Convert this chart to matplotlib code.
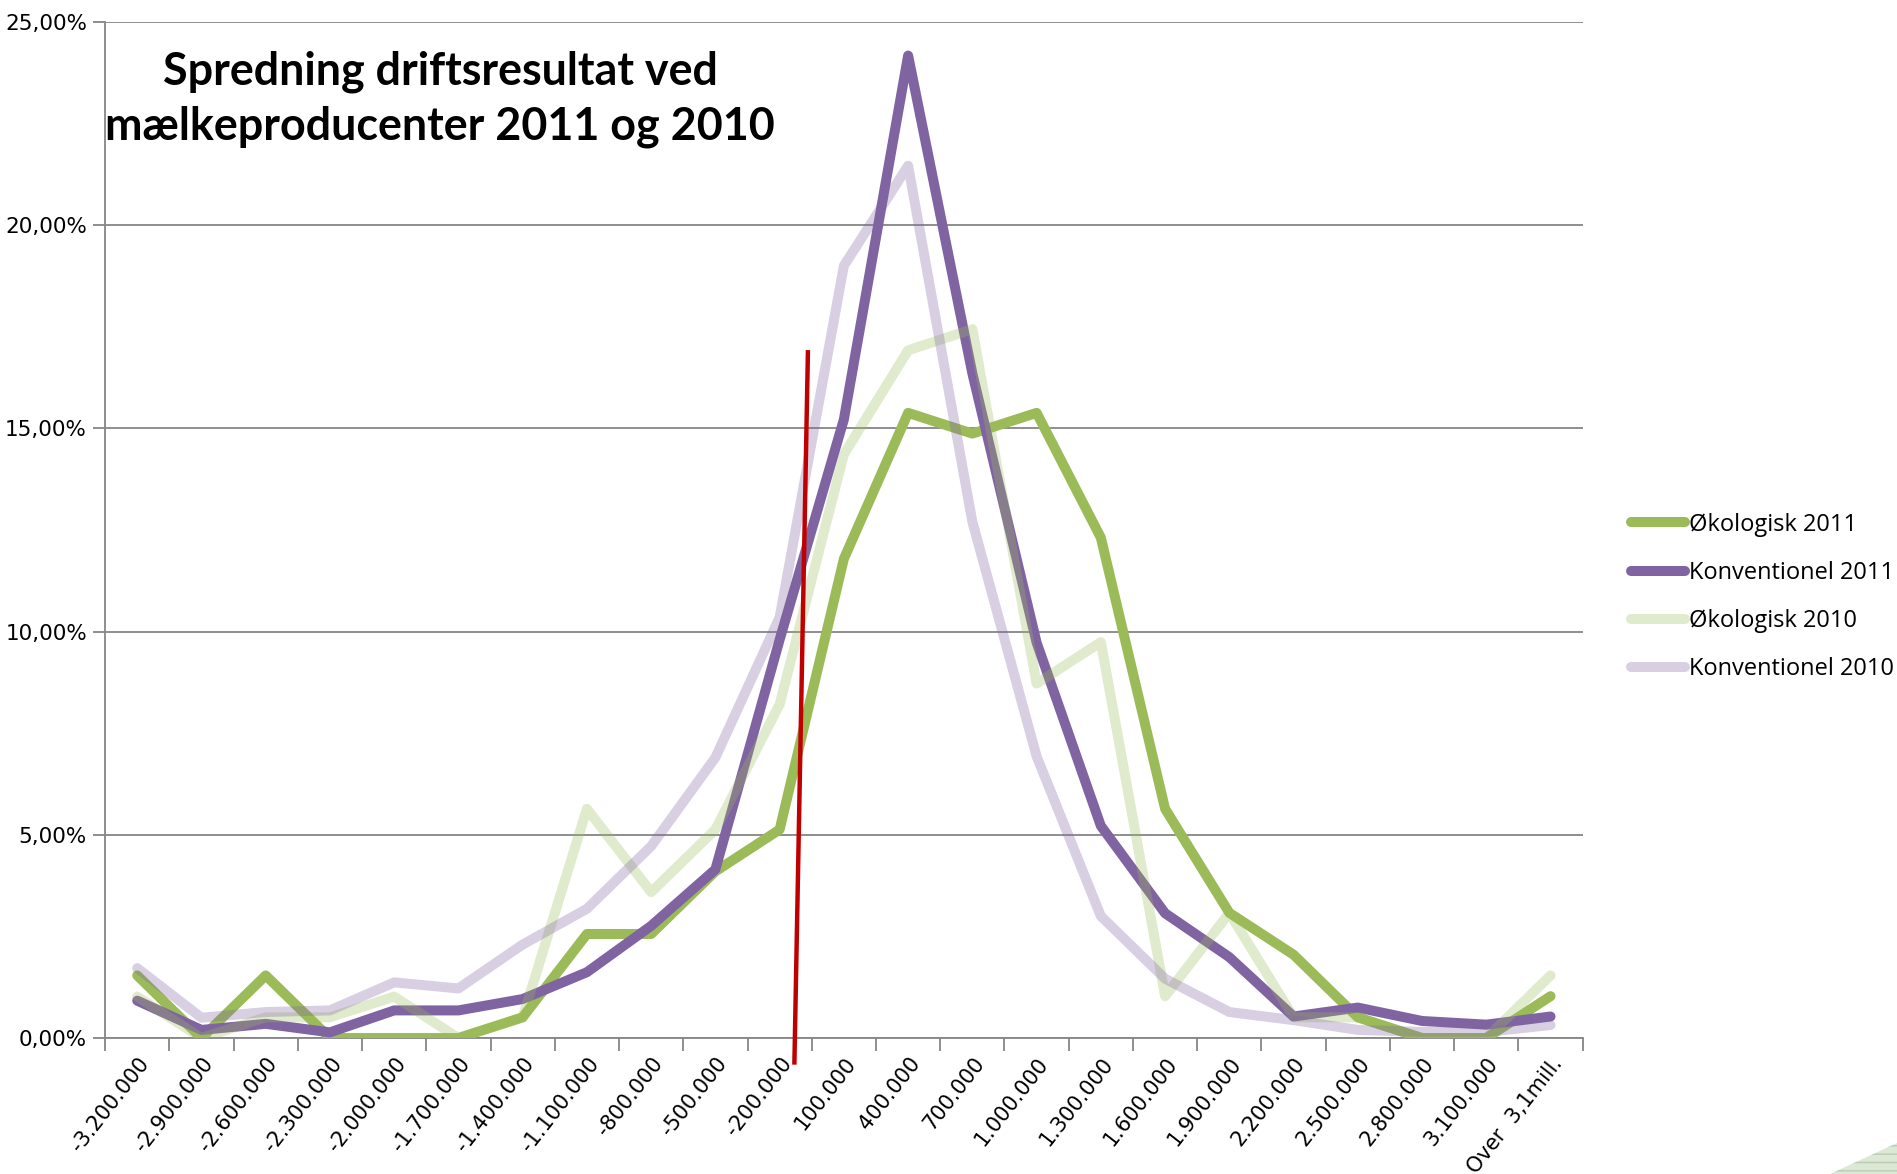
import numpy as np
import matplotlib.pyplot as plt
from matplotlib.ticker import FuncFormatter
from matplotlib.patches import Polygon

# driftsresultat intervals (kr.)
categories = ['-3.200.000', '-2.900.000', '-2.600.000', '-2.300.000', '-2.000.000',
              '-1.700.000', '-1.400.000', '-1.100.000', '-800.000', '-500.000',
              '-200.000', '100.000', '400.000', '700.000', '1.000.000', '1.300.000',
              '1.600.000', '1.900.000', '2.200.000', '2.500.000', '2.800.000',
              '3.100.000', 'Over  3,1mill.']

# andel af bedrifter i %
oko_2011 = [1.54, 0.0, 1.54, 0.0, 0.0, 0.0, 0.51, 2.56, 2.56, 4.10, 5.13, 11.79,
            15.38, 14.87, 15.38, 12.31, 5.64, 3.08, 2.05, 0.51, 0.0, 0.0, 1.03]
konv_2011 = [0.92, 0.20, 0.35, 0.14, 0.68, 0.68, 0.96, 1.62, 2.76, 4.15, 9.80, 15.22,
             24.17, 16.35, 9.73, 5.22, 3.07, 1.99, 0.53, 0.75, 0.42, 0.33, 0.53]
oko_2010 = [1.02, 0.0, 0.51, 0.51, 1.02, 0.0, 0.51, 5.64, 3.59, 5.13, 8.21, 14.36,
            16.92, 17.44, 8.72, 9.74, 1.03, 3.08, 0.51, 0.51, 0.0, 0.0, 1.54]
konv_2010 = [1.72, 0.50, 0.64, 0.68, 1.37, 1.22, 2.30, 3.18, 4.72, 6.90, 10.35, 19.00,
             21.46, 12.70, 6.93, 3.00, 1.46, 0.64, 0.44, 0.20, 0.15, 0.15, 0.32]

series_names = ['Økologisk 2011', 'Konventionel 2011', 'Økologisk 2010', 'Konventionel 2010']
y_ticks = [0, 5, 10, 15, 20, 25]

# the hand drawn red line (category position, percent)
red_x = [10.44, 10.23]
red_y = [16.87, -0.6]

fig = plt.figure(figsize=(18.97, 11.74), dpi=100)
ax = fig.add_axes([0.0554, 0.1158, 0.7789, 0.8656])

x = np.arange(len(categories))
styles = [('#9BBB59', 1.0), ('#8064A2', 1.0), ('#9BBB59', 0.3), ('#8064A2', 0.3)]
for vals, name, (c, a) in zip([oko_2011, konv_2011, oko_2010, konv_2010], series_names, styles):
    ax.plot(x, vals, color=c, alpha=a, lw=7.2, solid_capstyle='round',
            solid_joinstyle='round', label=name, zorder=3)

ax.plot(red_x, red_y, color='#C00000', lw=3.2, clip_on=False, zorder=6)

ax.set_xlim(-0.5, len(categories) - 0.5)
ax.set_ylim(0, 25)

gray = '#868686'
ax.set_yticks(y_ticks)
ax.yaxis.set_major_formatter(FuncFormatter(lambda v, p: ('%.2f%%' % v).replace('.', ',')))
ax.yaxis.grid(True, color=gray, lw=1.3)
ax.set_axisbelow(True)
for s in ['top', 'right']:
    ax.spines[s].set_visible(False)
for s in ['left', 'bottom']:
    ax.spines[s].set_color(gray)
    ax.spines[s].set_linewidth(1.3)

ax.set_xticks(x)
ax.set_xticklabels(categories, rotation=52, ha='right', va='top', rotation_mode='anchor',
                   family='DejaVu Sans', fontsize=15)
ax.set_xticks(np.arange(-0.5, len(categories), 1), minor=True)
ax.tick_params(axis='x', which='major', length=0, pad=11)
ax.tick_params(axis='x', which='minor', length=9, color=gray, width=1.3)
ax.tick_params(axis='y', length=9, color=gray, width=1.3, pad=4, labelsize=15.5)
for lab in ax.get_yticklabels():
    lab.set_family('DejaVu Sans')

ax.text(0.2267, 0.924, 'Spredning driftsresultat ved\nmælkeproducenter 2011 og 2010',
        transform=ax.transAxes, ha='center', va='center', fontsize=32.3, fontweight='bold',
        family='Lato', linespacing=1.36)

ax.legend(loc='center left', bbox_to_anchor=(1.0325, 0.434), frameon=False,
          borderaxespad=0, borderpad=0, handlelength=2.3, handletextpad=0.15,
          labelspacing=1.03, prop={'family': 'Open Sans', 'size': 17})

# little striped corner decoration
fig.patches.append(Polygon([[0.9647, 0], [1, 0.0264], [1, 0]], closed=True,
                           transform=fig.transFigure, facecolor='#DCE7D6',
                           edgecolor='#B9CDB1', hatch='--', lw=0))

fig.savefig('out.png', dpi=100)
